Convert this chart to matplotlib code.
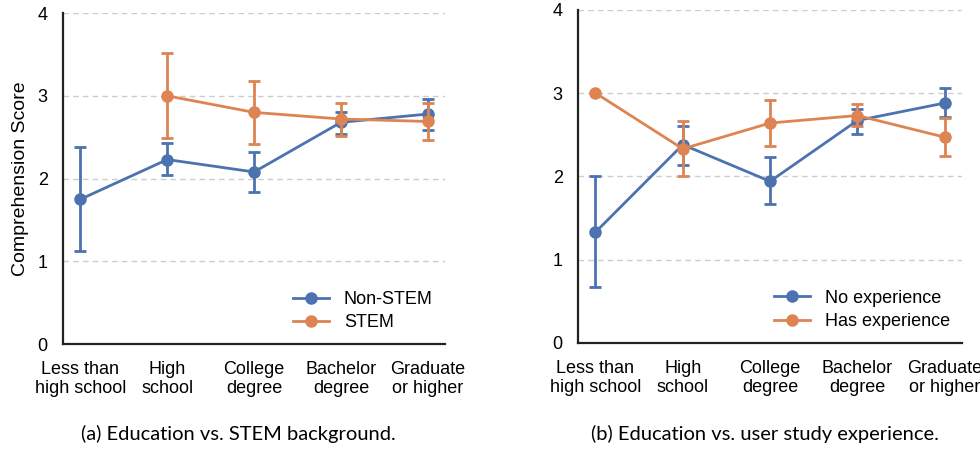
import matplotlib.pyplot as plt
import numpy as np

categories = ["Less than\nhigh school", "High\nschool", "College\ndegree",
              "Bachelor\ndegree", "Graduate\nor higher"]

# (a) education vs STEM background
non_stem = [1.75, 2.23, 2.08, 2.68, 2.78]
non_stem_lo = [1.12, 2.04, 1.84, 2.54, 2.59]
non_stem_hi = [2.38, 2.43, 2.32, 2.81, 2.96]
stem = [np.nan, 3.00, 2.80, 2.72, 2.69]
stem_lo = [np.nan, 2.49, 2.42, 2.52, 2.47]
stem_hi = [np.nan, 3.52, 3.18, 2.91, 2.91]

# (b) education vs user study experience
no_exp = [1.33, 2.38, 1.94, 2.67, 2.88]
no_exp_lo = [0.67, 2.14, 1.67, 2.51, 2.71]
no_exp_hi = [2.00, 2.61, 2.23, 2.81, 3.06]
has_exp = [3.00, 2.33, 2.64, 2.73, 2.47]
has_exp_lo = [np.nan, 2.00, 2.36, 2.60, 2.25]
has_exp_hi = [np.nan, 2.67, 2.92, 2.87, 2.70]

BLUE = "#4C72B0"
ORANGE = "#DD8452"
plt.rcParams["font.family"] = ["Liberation Sans", "DejaVu Sans"]


def draw(ax, series):
    x = np.arange(len(categories))
    for vals, lo, hi, color, label in series:
        vals = np.array(vals)
        err = np.array([vals - np.array(lo), np.array(hi) - vals])
        ax.errorbar(x, vals, yerr=err, fmt="none", ecolor=color, elinewidth=2,
                    capsize=4.5, capthick=2)
        ax.plot(x, vals, color=color, lw=2, marker="o", ms=8, label=label)
    ax.set_xlim(-0.2, 4.2)
    ax.set_ylim(0, 4)
    ax.set_yticks([0, 1, 2, 3, 4])
    ax.set_xticks(x)
    ax.set_xticklabels(categories, fontsize=13, linespacing=1.15)
    ax.tick_params(axis="both", length=0, labelsize=13)
    ax.tick_params(axis="x", pad=12)
    ax.tick_params(axis="y", pad=11)
    ax.yaxis.grid(True, ls=(0, (4, 3)), color="#cccccc", lw=1)
    ax.set_axisbelow(True)
    for s in ["top", "right"]:
        ax.spines[s].set_visible(False)
    for s in ["left", "bottom"]:
        ax.spines[s].set_color("#222222")
        ax.spines[s].set_linewidth(1.6)
    ax.legend(loc="lower right", frameon=False, fontsize=13,
              bbox_to_anchor=(1.01, -0.01), handlelength=2.0, labelspacing=0.35)


fig = plt.figure(figsize=(9.8, 4.51), dpi=100)
ax1 = fig.add_axes([0.0643, 0.237, 0.39, 0.734])
ax2 = fig.add_axes([0.5898, 0.2395, 0.392, 0.739])

draw(ax1, [(non_stem, non_stem_lo, non_stem_hi, BLUE, "Non-STEM"),
           (stem, stem_lo, stem_hi, ORANGE, "STEM")])
draw(ax2, [(no_exp, no_exp_lo, no_exp_hi, BLUE, "No experience"),
           (has_exp, has_exp_lo, has_exp_hi, ORANGE, "Has experience")])
ax1.set_ylabel("Comprehension Score", fontsize=14, labelpad=6)

fig.text(0.243, 0.035 - 0.01, "(a) Education vs. STEM background.", ha="center",
         fontsize=14.5, family=["Lato", "DejaVu Sans"])
fig.text(0.781, 0.035 - 0.01, "(b) Education vs. user study experience.", ha="center",
         fontsize=14.5, family=["Lato", "DejaVu Sans"])

fig.savefig("out.png", dpi=100)
